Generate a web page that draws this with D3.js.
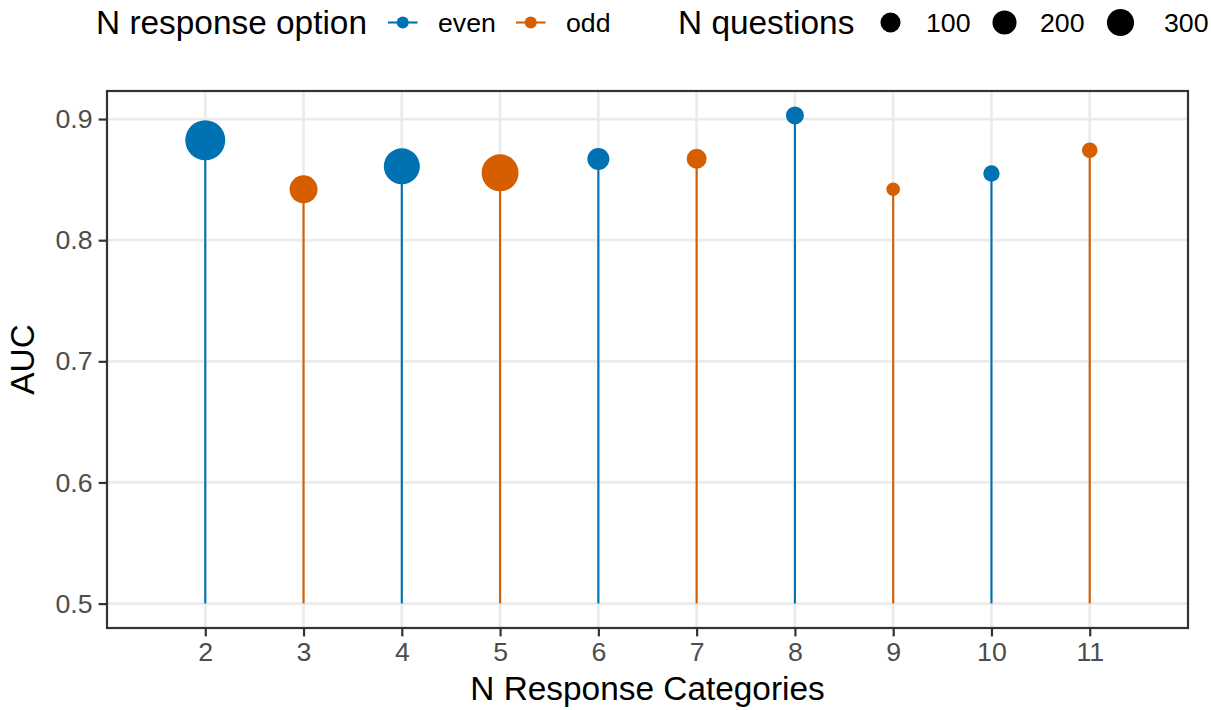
<!DOCTYPE html>
<html>
<head>
<meta charset="utf-8">
<script src="https://cdn.jsdelivr.net/npm/d3@7"></script>
<style>
  html, body { margin: 0; padding: 0; background: #fff; }
  svg { display: block; font-family: "Liberation Sans", Arial, sans-serif; }
</style>
</head>
<body>
<svg id="chart" width="1211" height="710"></svg>
<script>
// ---- data ----
const categories = [2, 3, 4, 5, 6, 7, 8, 9, 10, 11];
const auc        = [0.8825, 0.842, 0.861, 0.8556, 0.867, 0.8672, 0.903, 0.842, 0.855, 0.8742];
const nQuestions = [935, 331, 699, 755, 144, 98, 62, 11, 38, 29];
const optionType = ["even", "odd", "even", "odd", "even", "odd", "even", "odd", "even", "odd"];
const xTicks = [2, 3, 4, 5, 6, 7, 8, 9, 10, 11];
const yTicks = [0.5, 0.6, 0.7, 0.8, 0.9];
const sizeBreaks = [100, 200, 300];
const colorLevels = ["even", "odd"];
const colorValues = ["#0072B2", "#D55E00"];

const data = categories.map((c, i) => ({ x: c, y: auc[i], n: nQuestions[i], type: optionType[i] }));

// ---- layout ----
const svg = d3.select("#chart");
const panel = { left: 107, right: 1188, top: 91, bottom: 628 };
const base = 0.5;

const yMax = d3.max(auc);
const span = yMax - base;
const x = d3.scaleLinear().domain([1, 12]).range([panel.left, panel.right]);
const y = d3.scaleLinear().domain([base - 0.05 * span, yMax + 0.05 * span]).range([panel.bottom, panel.top]);
const color = d3.scaleOrdinal().domain(colorLevels).range(colorValues);
const r = d3.scaleSqrt().domain([0, 1000]).range([5.2, 20.5]);

const gridColor = "#EBEBEB";
const axisColor = "#333333";
const tickText = "#4D4D4D";
const tickFont = 26.7;
const titleFont = 33.4;

// gridlines
const grid = svg.append("g");
grid.selectAll("line.gy").data(yTicks).join("line")
  .attr("x1", panel.left).attr("x2", panel.right)
  .attr("y1", d => y(d)).attr("y2", d => y(d))
  .attr("stroke", gridColor).attr("stroke-width", 2.7);
grid.selectAll("line.gx").data(xTicks).join("line")
  .attr("y1", panel.top).attr("y2", panel.bottom)
  .attr("x1", d => x(d)).attr("x2", d => x(d))
  .attr("stroke", gridColor).attr("stroke-width", 2.7);

// stems
svg.append("g").selectAll("line").data(data).join("line")
  .attr("x1", d => x(d.x)).attr("x2", d => x(d.x))
  .attr("y1", y(base)).attr("y2", d => y(d.y))
  .attr("stroke", d => color(d.type)).attr("stroke-width", 2.1);

// points
svg.append("g").selectAll("circle").data(data).join("circle")
  .attr("cx", d => x(d.x)).attr("cy", d => y(d.y))
  .attr("r", d => r(d.n))
  .attr("fill", d => color(d.type));

// panel border
svg.append("rect")
  .attr("x", panel.left).attr("y", panel.top)
  .attr("width", panel.right - panel.left).attr("height", panel.bottom - panel.top)
  .attr("fill", "none").attr("stroke", axisColor).attr("stroke-width", 2.2);

// axes
const xAxis = d3.axisBottom(x).tickValues(xTicks).tickSize(8.4).tickPadding(6).tickFormat(d3.format("d"));
const gx = svg.append("g").attr("transform", `translate(0,${panel.bottom})`).call(xAxis);
gx.select(".domain").remove();
gx.selectAll(".tick line").attr("stroke", axisColor).attr("stroke-width", 2.2);
gx.selectAll(".tick text").attr("fill", tickText).attr("font-size", tickFont)
  .attr("font-family", "Liberation Sans, Arial, sans-serif");

const yAxis = d3.axisLeft(y).tickValues(yTicks).tickSize(8.4).tickPadding(6).tickFormat(d3.format(".1f"));
const gy = svg.append("g").attr("transform", `translate(${panel.left},0)`).call(yAxis);
gy.select(".domain").remove();
gy.selectAll(".tick line").attr("stroke", axisColor).attr("stroke-width", 2.2);
gy.selectAll(".tick text").attr("fill", tickText).attr("font-size", tickFont)
  .attr("font-family", "Liberation Sans, Arial, sans-serif");

// axis titles
svg.append("text")
  .attr("x", (panel.left + panel.right) / 2).attr("y", 700)
  .attr("text-anchor", "middle").attr("font-size", titleFont).attr("fill", "#000")
  .text("N Response Categories");
svg.append("text")
  .attr("transform", `translate(34,${(panel.top + panel.bottom) / 2}) rotate(-90)`)
  .attr("text-anchor", "middle").attr("font-size", titleFont).attr("fill", "#000")
  .text("AUC");

// ---- legends ----
const legY = 22.5;
const leg = svg.append("g");
leg.append("text").attr("x", 96).attr("y", legY).attr("dy", "0.35em")
  .attr("font-size", titleFont).attr("fill", "#000").text("N response option");

const keyPos = [{ x0: 388, text: 438 }, { x0: 516, text: 566 }];
colorLevels.forEach((lvl, i) => {
  const k = keyPos[i];
  leg.append("line").attr("x1", k.x0).attr("x2", k.x0 + 29.5)
    .attr("y1", legY).attr("y2", legY)
    .attr("stroke", color(lvl)).attr("stroke-width", 2.1);
  leg.append("circle").attr("cx", k.x0 + 14.75).attr("cy", legY).attr("r", 6)
    .attr("fill", color(lvl));
  leg.append("text").attr("x", k.text).attr("y", legY).attr("dy", "0.35em")
    .attr("font-size", tickFont).attr("fill", "#000").text(lvl);
});

leg.append("text").attr("x", 678).attr("y", legY).attr("dy", "0.35em")
  .attr("font-size", titleFont).attr("fill", "#000").text("N questions");
const sizePos = [{ cx: 890.5, text: 926 }, { cx: 1004.5, text: 1040 }, { cx: 1120.5, text: 1164 }];
sizeBreaks.forEach((b, i) => {
  const p = sizePos[i];
  leg.append("circle").attr("cx", p.cx).attr("cy", legY).attr("r", r(b)).attr("fill", "#000");
  leg.append("text").attr("x", p.text).attr("y", legY).attr("dy", "0.35em")
    .attr("font-size", tickFont).attr("fill", "#000").text(b);
});
</script>
</body>
</html>
